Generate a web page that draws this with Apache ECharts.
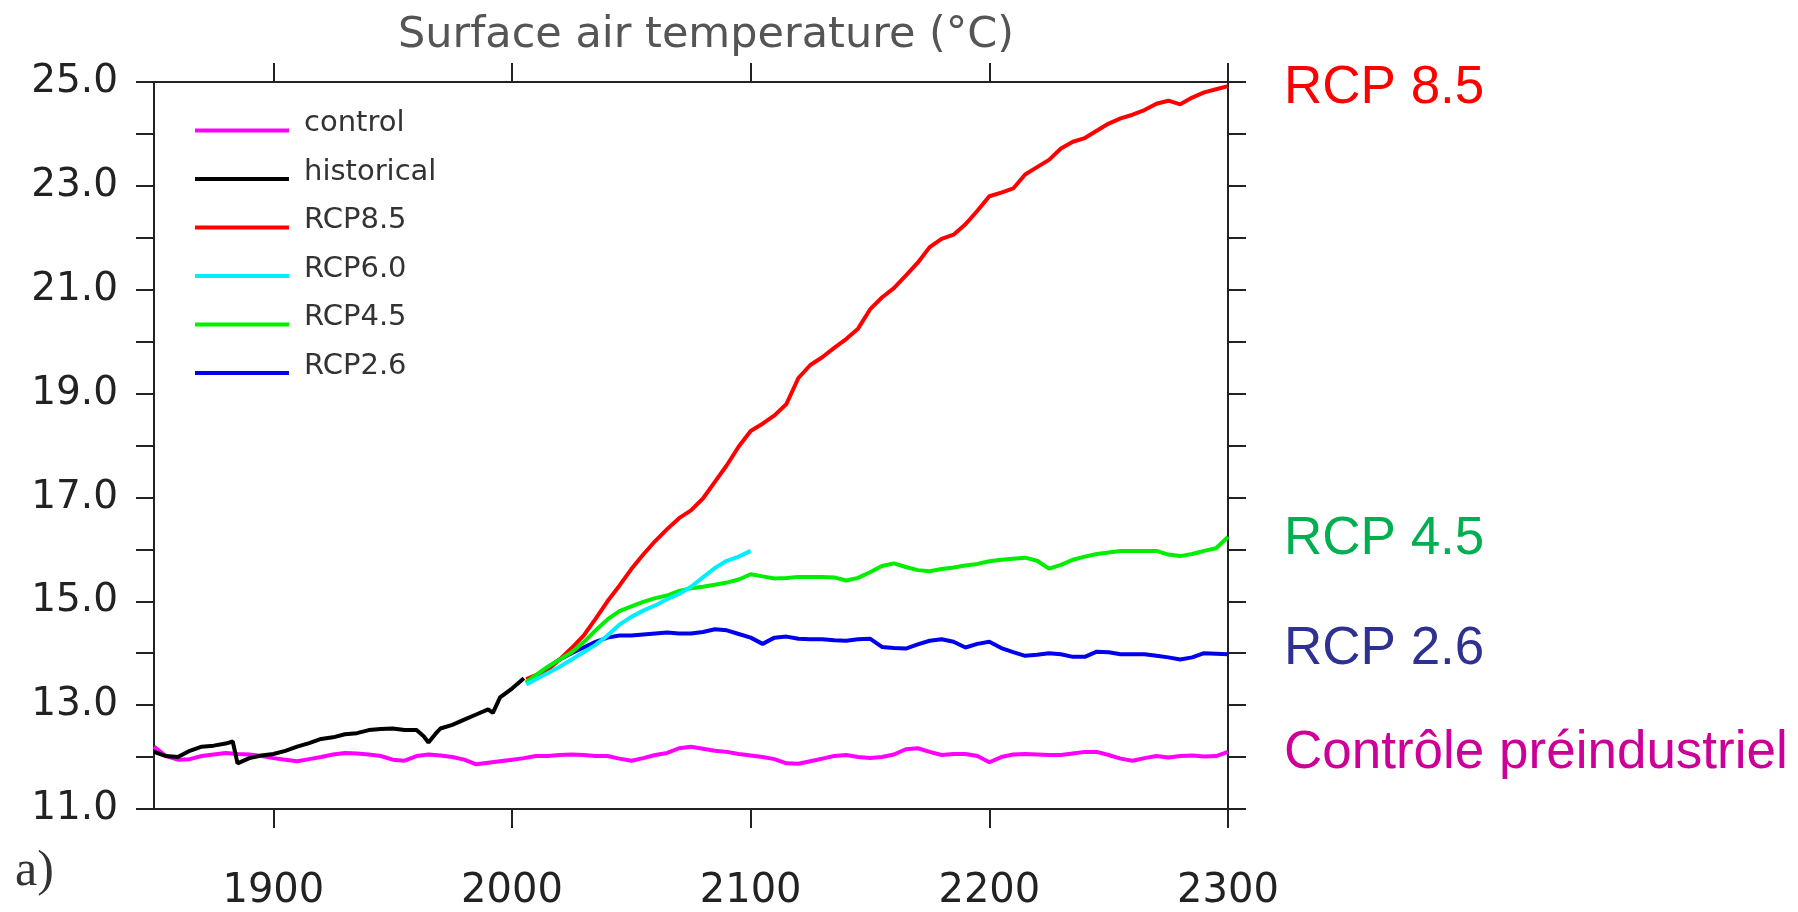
<!DOCTYPE html>
<html>
<head>
<meta charset="utf-8">
<script src="https://cdn.jsdelivr.net/npm/echarts@6/dist/echarts.min.js"></script>
<style>
html,body{margin:0;padding:0;background:#fff;}
#chart{width:1798px;height:912px;}
</style>
</head>
<body>
<div id="chart"></div>
<script>
// ---- data (year, °C) ----
const yearTicks = [1900, 2000, 2100, 2200, 2300];
const tempTicks = [11, 13, 15, 17, 19, 21, 23, 25];

const control = [[1850,12.20],[1855,12.02],[1860,11.95],[1865,11.96],[1870,12.02],[1875,12.05],[1880,12.08],[1885,12.06],[1890,12.05],[1895,12.02],[1900,11.98],[1905,11.95],[1910,11.92],[1915,11.96],[1920,12.00],[1925,12.05],[1930,12.08],[1935,12.07],[1940,12.05],[1945,12.02],[1950,11.95],[1955,11.93],[1960,12.02],[1965,12.05],[1970,12.03],[1975,12.00],[1980,11.95],[1985,11.86],[1990,11.89],[1995,11.92],[2000,11.95],[2005,11.98],[2010,12.02],[2015,12.02],[2020,12.04],[2025,12.05],[2030,12.04],[2035,12.02],[2040,12.02],[2045,11.97],[2050,11.93],[2055,11.98],[2060,12.04],[2065,12.08],[2070,12.17],[2075,12.20],[2080,12.16],[2085,12.12],[2090,12.10],[2095,12.06],[2100,12.03],[2105,12.00],[2110,11.96],[2115,11.88],[2120,11.87],[2125,11.92],[2130,11.97],[2135,12.02],[2140,12.04],[2145,12.00],[2150,11.98],[2155,12.00],[2160,12.05],[2165,12.15],[2170,12.17],[2175,12.10],[2180,12.04],[2185,12.06],[2190,12.06],[2195,12.02],[2200,11.90],[2205,12.00],[2210,12.05],[2215,12.06],[2220,12.05],[2225,12.04],[2230,12.04],[2235,12.07],[2240,12.10],[2245,12.10],[2250,12.04],[2255,11.97],[2260,11.93],[2265,11.98],[2270,12.02],[2275,11.99],[2280,12.02],[2285,12.03],[2290,12.01],[2295,12.02],[2300,12.10]];

const historical = [[1850,12.10],[1855,12.02],[1860,12.00],[1865,12.12],[1870,12.20],[1875,12.22],[1880,12.26],[1883,12.30],[1885,11.88],[1890,11.98],[1895,12.03],[1900,12.06],[1905,12.12],[1910,12.20],[1915,12.27],[1920,12.35],[1925,12.38],[1930,12.44],[1935,12.46],[1940,12.52],[1945,12.54],[1950,12.55],[1955,12.52],[1960,12.52],[1963,12.40],[1965,12.28],[1968,12.45],[1970,12.55],[1975,12.62],[1980,12.72],[1985,12.82],[1990,12.92],[1992,12.85],[1995,13.15],[2000,13.32],[2005,13.52]];

const rcp85 = [[2006,13.50],[2010,13.58],[2015,13.68],[2020,13.88],[2025,14.10],[2030,14.34],[2035,14.66],[2040,15.00],[2045,15.30],[2050,15.62],[2055,15.90],[2060,16.16],[2065,16.39],[2070,16.60],[2075,16.75],[2080,16.98],[2085,17.30],[2090,17.62],[2095,17.98],[2100,18.28],[2105,18.42],[2110,18.58],[2115,18.80],[2120,19.30],[2125,19.55],[2130,19.70],[2135,19.88],[2140,20.05],[2145,20.25],[2150,20.62],[2155,20.85],[2160,21.03],[2165,21.27],[2170,21.52],[2175,21.82],[2180,21.98],[2185,22.06],[2190,22.26],[2195,22.52],[2200,22.80],[2205,22.87],[2210,22.95],[2215,23.22],[2220,23.36],[2225,23.50],[2230,23.72],[2235,23.85],[2240,23.92],[2245,24.06],[2250,24.20],[2255,24.30],[2260,24.37],[2265,24.46],[2270,24.58],[2275,24.64],[2280,24.57],[2285,24.70],[2290,24.80],[2295,24.86],[2300,24.92]];

const rcp60 = [[2006,13.40],[2010,13.50],[2015,13.62],[2020,13.74],[2025,13.88],[2030,14.02],[2035,14.16],[2040,14.34],[2045,14.55],[2050,14.70],[2055,14.82],[2060,14.92],[2065,15.04],[2070,15.14],[2075,15.28],[2080,15.46],[2085,15.64],[2090,15.78],[2095,15.86],[2100,15.97]];

const rcp45 = [[2006,13.45],[2010,13.58],[2015,13.74],[2020,13.88],[2025,14.02],[2030,14.21],[2035,14.44],[2040,14.65],[2045,14.81],[2050,14.90],[2055,14.99],[2060,15.06],[2065,15.11],[2070,15.20],[2075,15.25],[2080,15.28],[2085,15.32],[2090,15.36],[2095,15.42],[2100,15.52],[2105,15.48],[2110,15.44],[2115,15.45],[2120,15.47],[2125,15.47],[2130,15.47],[2135,15.46],[2140,15.40],[2145,15.45],[2150,15.56],[2155,15.68],[2160,15.73],[2165,15.66],[2170,15.60],[2175,15.58],[2180,15.62],[2185,15.65],[2190,15.69],[2195,15.72],[2200,15.77],[2205,15.80],[2210,15.82],[2215,15.84],[2220,15.78],[2225,15.63],[2230,15.70],[2235,15.80],[2240,15.86],[2245,15.91],[2250,15.94],[2255,15.97],[2260,15.97],[2265,15.97],[2270,15.97],[2275,15.90],[2280,15.87],[2285,15.91],[2290,15.97],[2295,16.02],[2300,16.24]];

const rcp26 = [[2006,13.42],[2010,13.55],[2015,13.72],[2020,13.88],[2025,14.00],[2030,14.11],[2035,14.22],[2040,14.30],[2045,14.34],[2050,14.34],[2055,14.36],[2060,14.38],[2065,14.40],[2070,14.38],[2075,14.38],[2080,14.41],[2085,14.46],[2090,14.44],[2095,14.37],[2100,14.30],[2105,14.18],[2110,14.30],[2115,14.32],[2120,14.28],[2125,14.27],[2130,14.27],[2135,14.25],[2140,14.24],[2145,14.27],[2150,14.28],[2155,14.12],[2160,14.10],[2165,14.09],[2170,14.17],[2175,14.24],[2180,14.27],[2185,14.22],[2190,14.11],[2195,14.18],[2200,14.22],[2205,14.10],[2210,14.02],[2215,13.95],[2220,13.97],[2225,14.00],[2230,13.98],[2235,13.93],[2240,13.93],[2245,14.03],[2250,14.02],[2255,13.98],[2260,13.98],[2265,13.98],[2270,13.95],[2275,13.92],[2280,13.88],[2285,13.92],[2290,14.00],[2295,13.99],[2300,13.98]];

const seriesNames = ['control', 'historical', 'RCP8.5', 'RCP6.0', 'RCP4.5', 'RCP2.6'];
const seriesColors = ['#ff00ff', '#000000', '#ff0000', '#00eeff', '#00ee00', '#0000ee'];
const seriesData = [control, historical, rcp85, rcp60, rcp45, rcp26];
const seriesZ = [2, 3, 5, 7, 6, 4];

const sideLabels = ['RCP 8.5', 'RCP 4.5', 'RCP 2.6', 'Contrôle préindustriel'];
const sideColors = ['#ff0000', '#00b050', '#2e3192', '#cc0099'];

// ---- chart ----
const chart = echarts.init(document.getElementById('chart'), null, {renderer: 'canvas'});
const axisColor = '#222';
const font = 'DejaVu Sans';

const xAxisBase = {
  type: 'value', min: 1850, max: 2300, interval: 50,
  axisLine: {show: true, onZero: false, lineStyle: {color: axisColor, width: 2}},
  axisTick: {show: true, inside: false, length: 19, customValues: yearTicks, lineStyle: {color: axisColor, width: 2}},
  splitLine: {show: false}
};
const yAxisBase = {
  type: 'value', min: 11, max: 25, interval: 1,
  axisLine: {show: true, lineStyle: {color: axisColor, width: 2}},
  axisTick: {show: true, inside: false, length: 18, lineStyle: {color: axisColor, width: 2}},
  splitLine: {show: false}
};

const sideY = [88, 539, 649, 753];

chart.setOption({
  animation: false,
  backgroundColor: '#fff',
  title: {
    text: 'Surface air temperature (°C)',
    left: 701, top: 9, textAlign: 'center',
    textStyle: {fontFamily: font, fontSize: 43, fontWeight: 'normal', color: '#555'}
  },
  grid: {left: 154, right: 570, top: 82, bottom: 102},
  legend: {
    orient: 'vertical', left: 195, top: 109, padding: 0, itemGap: 7,
    itemWidth: 94, itemHeight: 4, icon: 'rect', selectedMode: false,
    data: seriesNames,
    formatter: name => '{t|' + name + '}\n{s| }',
    textStyle: {
      fontFamily: font, fontSize: 29, color: '#333', padding: [0, 0, 0, 10],
      rich: {
        t: {fontFamily: font, fontSize: 29, lineHeight: 30, color: '#333'},
        s: {fontFamily: font, fontSize: 10, lineHeight: 14}
      }
    }
  },
  xAxis: [
    Object.assign({}, xAxisBase, {position: 'bottom',
      axisLabel: {show: true, margin: 63, customValues: yearTicks, fontFamily: font, fontSize: 40, color: axisColor,
        formatter: v => String(v)}}),
    Object.assign({}, xAxisBase, {position: 'top', axisLabel: {show: false}})
  ],
  yAxis: [
    Object.assign({}, yAxisBase, {position: 'left',
      axisLabel: {show: true, margin: 36, customValues: tempTicks, fontFamily: font, fontSize: 39, color: axisColor,
        formatter: v => v.toFixed(1)}}),
    Object.assign({}, yAxisBase, {position: 'right', axisLabel: {show: false}})
  ],
  series: seriesNames.map((name, i) => ({
    name: name, type: 'line', data: seriesData[i], z: seriesZ[i],
    xAxisIndex: 0, yAxisIndex: 0,
    showSymbol: false, symbol: 'none', smooth: false,
    color: seriesColors[i],
    lineStyle: {color: seriesColors[i], width: 4}
  })),
  graphic: sideLabels.map((t, i) => ({
    type: 'text', x: 1284, y: sideY[i],
    style: {text: t, font: '53px "Liberation Sans"', fill: sideColors[i], verticalAlign: 'middle'}
  })).concat([{
    type: 'text', x: 15, y: 872,
    style: {text: 'a)', font: '50px "Liberation Serif"', fill: '#333', verticalAlign: 'middle'}
  }])
});
</script>
</body>
</html>
